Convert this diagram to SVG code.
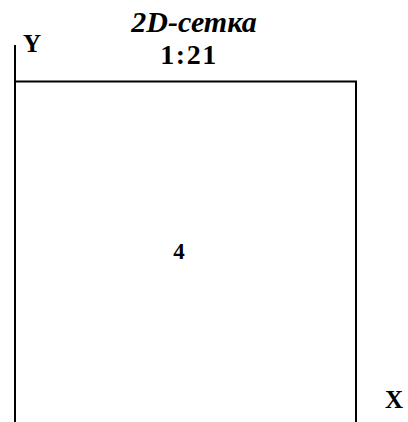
<svg xmlns="http://www.w3.org/2000/svg" width="408" height="422" viewBox="0 0 408 422">
<style>
text{font-family:"Liberation Serif","Times New Roman",serif;font-weight:bold;fill:#000}
.ln{stroke:#000;stroke-width:2;fill:none}
</style>
<rect width="408" height="422" fill="#fff"/>
<g id="title">
<text x="194" y="32" font-size="30" font-style="italic" text-anchor="middle">2D-сетка</text>
<text x="189" y="64" font-size="28" text-anchor="middle" letter-spacing="1.5">1:21</text>
</g>
<g id="axes">
<text x="23" y="52" font-size="25">Y</text>
<text x="385" y="408" font-size="25">X</text>
</g>
<g id="cell4">
<path class="ln" d="M15,45 V422 M15,81.5 H356 V422"/>
<text x="179" y="259" font-size="23" text-anchor="middle">4</text>
</g>
</svg>
